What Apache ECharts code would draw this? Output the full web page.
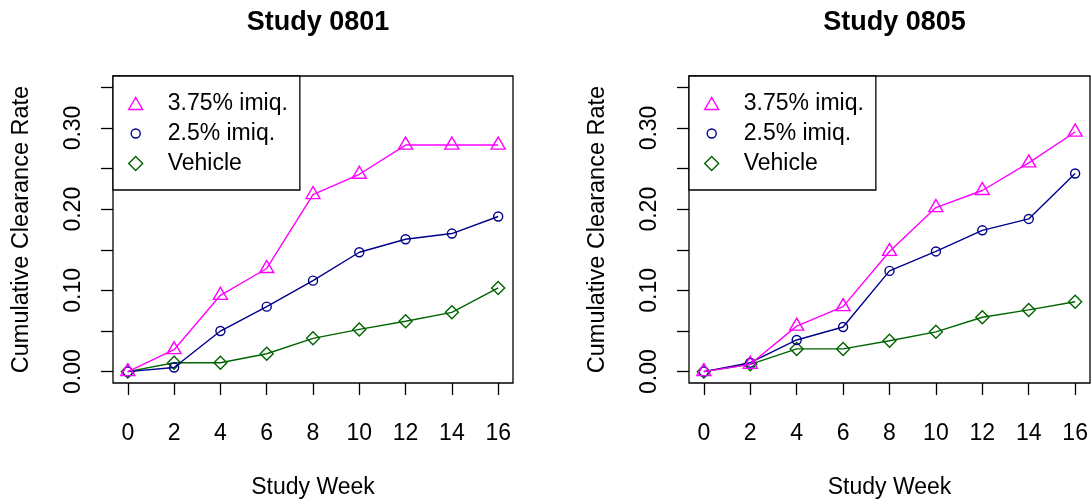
<!DOCTYPE html>
<html>
<head>
<meta charset="utf-8">
<script src="https://cdn.jsdelivr.net/npm/echarts@6/dist/echarts.min.js"></script>
<style>
html,body{margin:0;padding:0;background:#fff;}
#chart{width:1091px;height:504px;}
</style>
</head>
<body>
<div id="chart"></div>
<script>
// ---- data ----
const weeks = [0, 2, 4, 6, 8, 10, 12, 14, 16];
const seriesNames = ['3.75% imiq.', '2.5% imiq.', 'Vehicle'];
const panelTitles = ['Study 0801', 'Study 0805'];

const hi0801  = [0, 0.027, 0.094, 0.127, 0.218, 0.243, 0.279, 0.279, 0.279];
const lo0801  = [0, 0.005, 0.050, 0.080, 0.112, 0.147, 0.163, 0.170, 0.191];
const veh0801 = [0, 0.011, 0.011, 0.022, 0.041, 0.052, 0.062, 0.073, 0.103];

const hi0805  = [0, 0.009, 0.056, 0.080, 0.148, 0.202, 0.223, 0.257, 0.295];
const lo0805  = [0, 0.011, 0.039, 0.055, 0.124, 0.148, 0.174, 0.188, 0.244];
const veh0805 = [0, 0.009, 0.028, 0.028, 0.038, 0.049, 0.067, 0.076, 0.086];

const xTicks = [0, 2, 4, 6, 8, 10, 12, 14, 16];
const yTicks = [0, 0.05, 0.10, 0.15, 0.20, 0.25, 0.30, 0.35];
const yLabels = [0, 0.10, 0.20, 0.30];

// ---- styling ----
const FONT = '"Liberation Sans", Arial, Helvetica, sans-serif';
const colors = ['#FF00FF', '#00008B', '#006400'];
const symbols = ['triangle', 'circle', 'diamond'];
const symbolSizes = [[14, 12], 9, 13];
const symbolOffsets = [[0, -2], [0, 0], [0, 0]];
const legendIcons = [
  'path://M0,0M14,14M7,1L14,13L0,13Z',
  'path://M0,0M14,14M11.5,7A4.5,4.5,0,1,1,2.5,7A4.5,4.5,0,1,1,11.5,7Z',
  'path://M0,0M14,14M7,0L14,7L7,14L0,7Z'
];

const panels = [
  { data: [hi0801, lo0801, veh0801], left: 113, width: 400 },
  { data: [hi0805, lo0805, veh0805], left: 689, width: 401 }
];

const grids = [], xAxes = [], yAxes = [], series = [], titles = [], legends = [];

panels.forEach((p, pi) => {
  grids.push({
    left: p.left, top: 76, width: p.width, height: 309,
    show: true, borderColor: '#000', borderWidth: 1.3, backgroundColor: 'transparent'
  });
  xAxes.push({
    gridIndex: pi, type: 'value', min: -0.64, max: 16.64,
    name: 'Study Week', nameLocation: 'middle', nameGap: 93,
    nameTextStyle: { fontFamily: FONT, fontSize: 23, color: '#000' },
    axisLine: { show: false, onZero: false },
    splitLine: { show: false },
    axisTick: { show: true, length: 12, inside: false, customValues: xTicks,
                lineStyle: { color: '#000', width: 1.3 } },
    axisLabel: { customValues: xTicks, margin: 39, fontFamily: FONT, fontSize: 23, color: '#000' }
  });
  yAxes.push({
    gridIndex: pi, type: 'value', min: -0.014, max: 0.364,
    name: 'Cumulative Clearance Rate', nameLocation: 'middle', nameGap: 79,
    nameRotate: 90,
    nameTextStyle: { fontFamily: FONT, fontSize: 23.5, color: '#000' },
    axisLine: { show: false, onZero: false },
    splitLine: { show: false },
    axisTick: { show: true, length: 12, inside: false, customValues: yTicks,
                lineStyle: { color: '#000', width: 1.3 } },
    axisLabel: { customValues: yLabels, rotate: 90, margin: 28,
                 fontFamily: FONT, fontSize: 23, color: '#000',
                 formatter: v => v.toFixed(2) }
  });
  titles.push({
    text: panelTitles[pi], left: p.left + p.width / 2, top: 4, textAlign: 'center',
    textStyle: { fontFamily: FONT, fontSize: 27, fontWeight: 'bold', color: '#000' }
  });
  p.data.forEach((vals, si) => {
    series.push({
      name: seriesNames[si] + (pi ? ' ' : ''),
      type: 'line',
      xAxisIndex: pi, yAxisIndex: pi,
      data: weeks.map((w, i) => [w, vals[i]]),
      symbol: symbols[si],
      symbolSize: symbolSizes[si],
      symbolOffset: symbolOffsets[si],
      showAllSymbol: true,
      itemStyle: { color: 'transparent', borderColor: colors[si], borderWidth: 1.4 },
      lineStyle: { color: colors[si], width: 1.4 },
      emphasis: { disabled: true },
      animation: false,
      z: 3 - si
    });
  });
  legends.push({
    left: p.left, top: 76, orient: 'vertical',
    backgroundColor: '#fff',
    borderColor: '#000', borderWidth: 1.3,
    padding: [16, 12, 15, 15],
    itemWidth: 14, itemHeight: 14, itemGap: 7,
    selectedMode: false,
    textStyle: { fontFamily: FONT, fontSize: 23, color: '#000', lineHeight: 22, padding: [0, 0, 0, 20] },
    data: seriesNames.map((n, si) => ({
      name: n + (pi ? ' ' : ''),
      icon: legendIcons[si],
      itemStyle: { color: 'transparent', borderColor: colors[si], borderWidth: 1.4 }
    })),
    formatter: n => n.trim()
  });
});

const chart = echarts.init(document.getElementById('chart'), null, { renderer: 'canvas' });
chart.setOption({
  animation: false,
  backgroundColor: '#fff',
  title: titles,
  legend: legends,
  grid: grids,
  xAxis: xAxes,
  yAxis: yAxes,
  series: series
});
</script>
</body>
</html>
